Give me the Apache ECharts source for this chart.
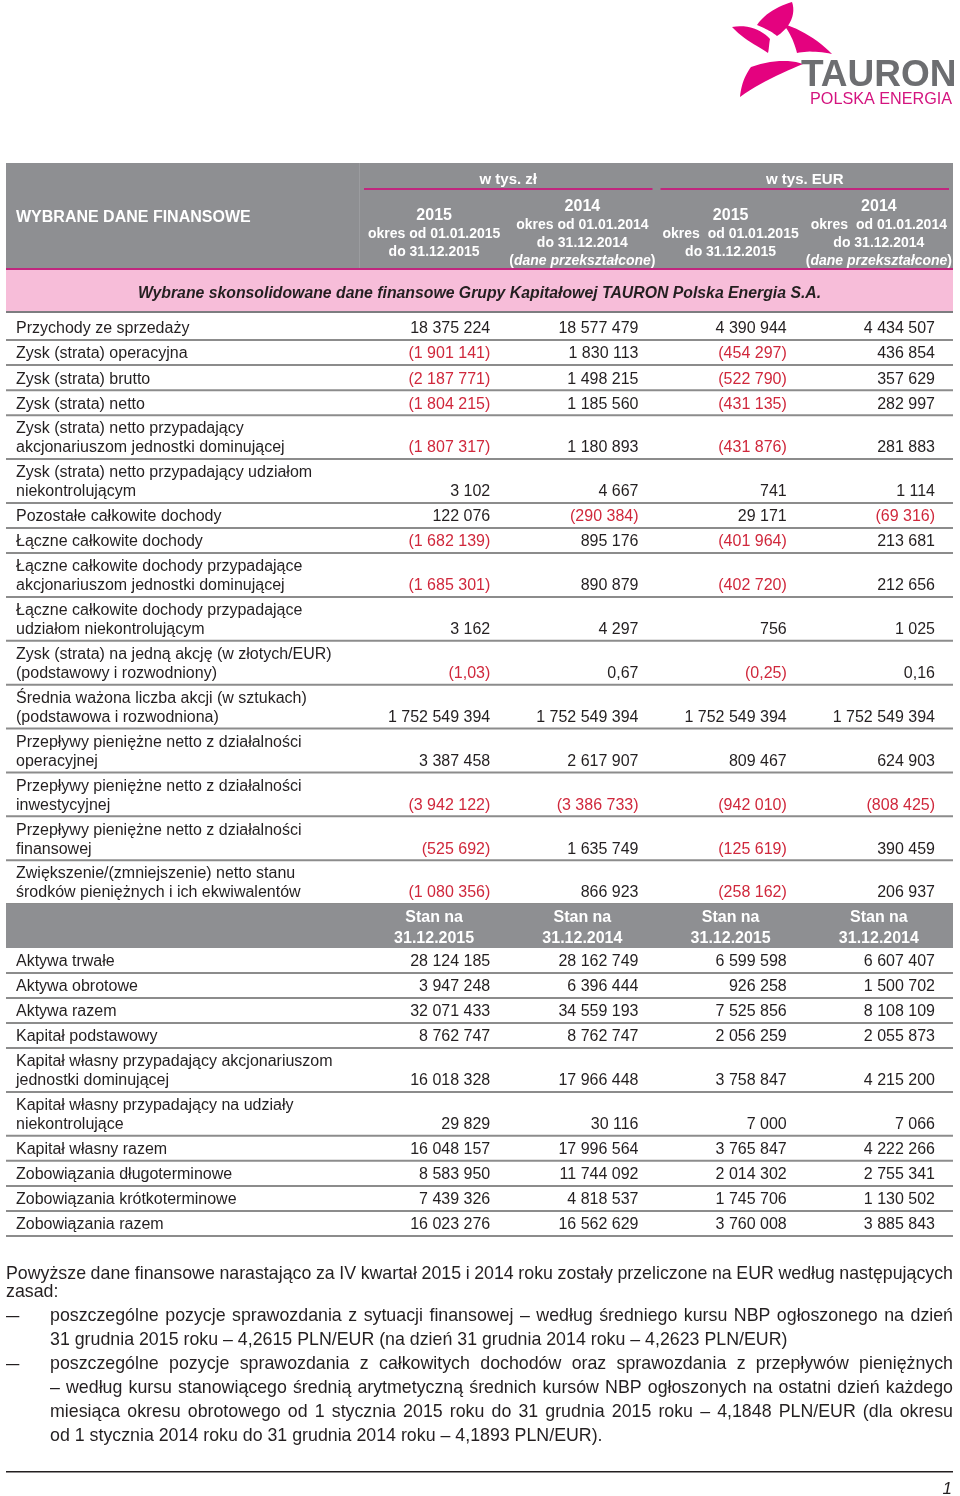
<!DOCTYPE html>
<html><head><meta charset="utf-8">
<script src="https://cdn.jsdelivr.net/npm/echarts@6/dist/echarts.min.js"></script>
<style>html,body{margin:0;padding:0;background:#fff}#c{width:960px;height:1496px}</style>
</head><body><div id="c"></div><script>
const FONT = '"Liberation Sans", Arial, Helvetica, sans-serif';

// ---------- DATA ----------
const tableTitle = 'WYBRANE DANE FINANSOWE';
const sectionTitle = 'Wybrane skonsolidowane dane finansowe Grupy Kapitałowej TAURON Polska Energia S.A.';
const currencyGroups = ['w tys. zł', 'w tys. EUR'];
const periodHeaders = [
  ['2015', 'okres od 01.01.2015', 'do 31.12.2015'],
  ['2014', 'okres od 01.01.2014', 'do 31.12.2014', '(dane przekształcone)'],
  ['2015', 'okres  od 01.01.2015', 'do 31.12.2015'],
  ['2014', 'okres  od 01.01.2014', 'do 31.12.2014', '(dane przekształcone)']
];
const balanceHeaders = ['Stan na\n31.12.2015', 'Stan na\n31.12.2014', 'Stan na\n31.12.2015', 'Stan na\n31.12.2014'];

const flowLabels = [
  'Przychody ze sprzedaży',
  'Zysk (strata) operacyjna',
  'Zysk (strata) brutto',
  'Zysk (strata) netto',
  'Zysk (strata) netto przypadający\nakcjonariuszom jednostki dominującej',
  'Zysk (strata) netto przypadający udziałom\nniekontrolującym',
  'Pozostałe całkowite dochody',
  'Łączne całkowite dochody',
  'Łączne całkowite dochody przypadające\nakcjonariuszom jednostki dominującej',
  'Łączne całkowite dochody przypadające\nudziałom niekontrolującym',
  'Zysk (strata) na jedną akcję (w złotych/EUR)\n(podstawowy i rozwodniony)',
  'Średnia ważona liczba akcji (w sztukach)\n(podstawowa i rozwodniona)',
  'Przepływy pieniężne netto z działalności\noperacyjnej',
  'Przepływy pieniężne netto z działalności\ninwestycyjnej',
  'Przepływy pieniężne netto z działalności\nfinansowej',
  'Zwiększenie/(zmniejszenie) netto stanu\nśrodków pieniężnych i ich ekwiwalentów'
];
const flowPln2015 = [18375224, -1901141, -2187771, -1804215, -1807317, 3102, 122076, -1682139, -1685301, 3162, -1.03, 1752549394, 3387458, -3942122, -525692, -1080356];
const flowPln2014 = [18577479, 1830113, 1498215, 1185560, 1180893, 4667, -290384, 895176, 890879, 4297, 0.67, 1752549394, 2617907, -3386733, 1635749, 866923];
const flowEur2015 = [4390944, -454297, -522790, -431135, -431876, 741, 29171, -401964, -402720, 756, -0.25, 1752549394, 809467, -942010, -125619, -258162];
const flowEur2014 = [4434507, 436854, 357629, 282997, 281883, 1114, -69316, 213681, 212656, 1025, 0.16, 1752549394, 624903, -808425, 390459, 206937];

const balanceLabels = [
  'Aktywa trwałe',
  'Aktywa obrotowe',
  'Aktywa razem',
  'Kapitał podstawowy',
  'Kapitał własny przypadający akcjonariuszom\njednostki dominującej',
  'Kapitał własny przypadający na udziały\nniekontrolujące',
  'Kapitał własny razem',
  'Zobowiązania długoterminowe',
  'Zobowiązania krótkoterminowe',
  'Zobowiązania razem'
];
const balPln2015 = [28124185, 3947248, 32071433, 8762747, 16018328, 29829, 16048157, 8583950, 7439326, 16023276];
const balPln2014 = [28162749, 6396444, 34559193, 8762747, 17966448, 30116, 17996564, 11744092, 4818537, 16562629];
const balEur2015 = [6599598, 926258, 7525856, 2056259, 3758847, 7000, 3765847, 2014302, 1745706, 3760008];
const balEur2014 = [6607407, 1500702, 8108109, 2055873, 4215200, 7066, 4222266, 2755341, 1130502, 3885843];

const footnoteLines = [
  {text: 'Powyższe dane finansowe narastająco za IV kwartał 2015 i 2014 roku zostały przeliczone na EUR według następujących', indent: 0, justify: true},
  {text: 'zasad:', indent: 0, justify: false, tight: true},
  {text: 'poszczególne pozycje sprawozdania z sytuacji finansowej – według średniego kursu NBP ogłoszonego na dzień', indent: 1, justify: true, bullet: true},
  {text: '31 grudnia 2015 roku – 4,2615 PLN/EUR (na dzień 31 grudnia 2014 roku – 4,2623 PLN/EUR)', indent: 1, justify: false},
  {text: 'poszczególne pozycje sprawozdania z całkowitych dochodów oraz sprawozdania z przepływów pieniężnych', indent: 1, justify: true, bullet: true},
  {text: '– według kursu stanowiącego średnią arytmetyczną średnich kursów NBP ogłoszonych na ostatni dzień każdego', indent: 1, justify: true},
  {text: 'miesiąca okresu obrotowego od 1 stycznia 2015 roku do 31 grudnia 2015 roku – 4,1848 PLN/EUR (dla okresu', indent: 1, justify: true},
  {text: 'od 1 stycznia 2014 roku do 31 grudnia 2014 roku – 4,1893 PLN/EUR).', indent: 1, justify: false}
];
const pageNumber = '1';

// ---------- HELPERS ----------
function fmt(v) {
  const neg = v < 0, a = Math.abs(v);
  let s;
  if (Number.isInteger(a)) s = String(a).replace(/\B(?=(\d{3})+(?!\d))/g, ' ');
  else s = a.toFixed(2).replace('.', ',');
  return neg ? '(' + s + ')' : s;
}
function bezierPoly(start, segs) {
  const pts = [start];
  let p0 = start;
  segs.forEach(s => {
    const [c1, c2, p3] = s;
    for (let t = 1; t <= 12; t++) {
      const u = t / 12, v = 1 - u;
      pts.push([
        v*v*v*p0[0] + 3*v*v*u*c1[0] + 3*v*u*u*c2[0] + u*u*u*p3[0],
        v*v*v*p0[1] + 3*v*v*u*c1[1] + 3*v*u*u*c2[1] + u*u*u*p3[1]
      ]);
    }
    p0 = p3;
  });
  return pts;
}

const LINE = 18.8, PAD = 6.2;
const rows = [];
flowLabels.forEach((l, i) => rows.push({kind: 'data', label: l, vals: [flowPln2015[i], flowPln2014[i], flowEur2015[i], flowEur2014[i]]}));
rows.push({kind: 'band', label: '', heads: balanceHeaders});
balanceLabels.forEach((l, i) => rows.push({kind: 'data', label: l, vals: [balPln2015[i], balPln2014[i], balEur2015[i], balEur2014[i]]}));
let acc = 0;
const rowData = rows.map((r, i) => {
  const lines = r.kind === 'band' ? 2 : r.label.split('\n').length;
  const s = acc; acc += lines * LINE + PAD;
  return [0, s, acc, i];
});
const total = acc;

const GRAY = '#8e8f92', MAG = '#c0267e', PINK = '#f7bdd9', INK = '#231f20', RED = '#d0283c', SEP = '#8c8c8c';
const TL = 6, TR = 953, VAL0 = 360;
const colW = (TR - VAL0) / 4;

// ---------- GRAPHIC (header, logo, footer) ----------
const g = [];
const blades = [
  bezierPoly([757,25], [[[765,13],[779,6],[792,2]], [[796,13],[791,27],[777,36]], [[771,31],[764,28],[757,25]]]),
  bezierPoly([732,27], [[[748,24],[762,30],[770,39]], [[769,44],[769,49],[768,53]], [[758,46],[744,40],[732,27]]]),
  bezierPoly([751,67], [[[770,60],[790,59],[803,64]], [[784,72],[759,83],[740,97]], [[741,85],[745,75],[751,67]]]),
  bezierPoly([783,24], [[[801,29],[818,40],[832,54]], [[818,51],[806,51],[797,53]], [[794,41],[789,31],[783,24]]])
];
blades.forEach(p => g.push({type: 'polygon', shape: {points: p}, style: {fill: '#e4027f'}}));
g.push({type: 'text', x: 801, y: 76, style: {text: 'TAURON', font: 'bold 37px ' + FONT, fill: '#6d6e71', verticalAlign: 'middle'}});
g.push({type: 'text', x: 810, y: 100, style: {text: 'POLSKA ENERGIA', font: '16.2px ' + FONT, fill: '#d4147f', verticalAlign: 'middle'}});

// header box
g.push({type: 'rect', shape: {x: TL, y: 163, width: TR - TL, height: 105}, style: {fill: GRAY}});
g.push({type: 'rect', shape: {x: VAL0 - 1, y: 163, width: 1, height: 105}, style: {fill: 'rgba(255,255,255,0.12)'}});
g.push({type: 'rect', shape: {x: TL, y: 268, width: TR - TL, height: 2}, style: {fill: MAG}});
g.push({type: 'rect', shape: {x: TL, y: 270, width: TR - TL, height: 41}, style: {fill: PINK}});
g.push({type: 'rect', shape: {x: TL, y: 311, width: TR - TL, height: 2}, style: {fill: '#7d7d80'}});
g.push({type: 'text', x: 16, y: 218, style: {text: tableTitle, font: 'bold 16px ' + FONT, fill: '#fff', verticalAlign: 'middle'}});
currencyGroups.forEach((t, k) => {
  const x0 = VAL0 + k * 2 * colW;
  g.push({type: 'text', x: x0 + colW, y: 180, style: {text: t, font: 'bold 15px ' + FONT, fill: '#fff', align: 'center', verticalAlign: 'middle'}});
  g.push({type: 'rect', shape: {x: x0 + 4, y: 188, width: 2 * colW - 8, height: 2}, style: {fill: MAG}});
});
periodHeaders.forEach((lines, k) => {
  const cx = VAL0 + (k + 0.5) * colW;
  const n = lines.length;
  lines.forEach((t, j) => {
    const y = 234 + (j - (n - 1) / 2) * 18;
    let style;
    if (j === 0) style = {text: t, font: 'bold 16px ' + FONT};
    else if (t.startsWith('(')) style = {text: '{r|(}{i|' + t.slice(1, -1) + '}{r|)}', rich: {r: {font: 'bold 14px ' + FONT, fill: '#fff'}, i: {font: 'italic bold 14px ' + FONT, fill: '#fff'}}};
    else style = {text: t, font: 'bold 14px ' + FONT};
    style.fill = '#fff'; style.align = 'center'; style.verticalAlign = 'middle';
    g.push({type: 'text', x: cx, y: y, style: style});
  });
});
g.push({type: 'text', x: (TL + TR) / 2, y: 294, style: {text: sectionTitle, font: 'italic bold 15.8px ' + FONT, fill: INK, align: 'center', verticalAlign: 'middle'}});

// footer justified text
const FOOT_FONT = '17.8px ' + FONT;
const ctx = document.createElement('canvas').getContext('2d');
ctx.font = FOOT_FONT;
let fy = 1274;
footnoteLines.forEach((ln, i) => {
  if (i > 0) fy += ln.tight ? 18 : 24;
  const x0 = ln.indent ? 50 : TL;
  if (ln.bullet) g.push({type: 'text', x: TL, y: fy, scaleX: 1.35, originX: 0, originY: 0, style: {text: '–', font: FOOT_FONT, fill: INK, verticalAlign: 'middle'}});
  if (!ln.justify) {
    g.push({type: 'text', x: x0, y: fy, style: {text: ln.text, font: FOOT_FONT, fill: INK, verticalAlign: 'middle'}});
    return;
  }
  const words = ln.text.split(' ');
  const widths = words.map(w => ctx.measureText(w).width);
  const sum = widths.reduce((a, b) => a + b, 0);
  const gap = (TR - x0 - sum) / (words.length - 1);
  let x = x0;
  words.forEach((w, k) => {
    g.push({type: 'text', x: x, y: fy, style: {text: w, font: FOOT_FONT, fill: INK, verticalAlign: 'middle'}});
    x += widths[k] + gap;
  });
});
g.push({type: 'rect', shape: {x: TL, y: 1471, width: TR - TL, height: 1.5}, style: {fill: INK}});
g.push({type: 'text', x: 952, y: 1489, style: {text: pageNumber, font: 'italic 17px ' + FONT, fill: INK, align: 'right', verticalAlign: 'middle'}});

// ---------- TABLE BODY (custom series) ----------
function renderRow(params, api) {
  const r = rows[api.value(3)];
  const top = api.coord([0, api.value(1)])[1];
  const bot = api.coord([0, api.value(2)])[1];
  const cs = params.coordSys;
  const x0 = cs.x, x1 = cs.x + cs.width;
  const cw = (x1 - VAL0) / 4;
  const ch = [];
  if (r.kind === 'band') {
    ch.push({type: 'rect', shape: {x: x0, y: top, width: x1 - x0, height: bot - top}, style: {fill: GRAY}});
    r.heads.forEach((h, k) => ch.push({type: 'text', style: {text: h, x: VAL0 + (k + 0.5) * cw, y: (top + bot) / 2 + 2, font: 'bold 16px ' + FONT, lineHeight: 21, fill: '#fff', align: 'center', verticalAlign: 'middle'}}));
  } else {
    const ty = bot - 1.5;
    ch.push({type: 'text', style: {text: r.label, x: x0 + 10, y: ty, font: '16px ' + FONT, lineHeight: 19, fill: INK, align: 'left', verticalAlign: 'bottom'}});
    r.vals.forEach((v, k) => ch.push({type: 'text', style: {text: fmt(v), x: VAL0 + (k + 1) * cw - 18, y: ty, font: '16px ' + FONT, lineHeight: 19, fill: v < 0 ? RED : INK, align: 'right', verticalAlign: 'bottom'}}));
    ch.push({type: 'rect', shape: {x: x0, y: bot - 1, width: x1 - x0, height: 2}, style: {fill: SEP}});
  }
  return {type: 'group', children: ch};
}

const chart = echarts.init(document.getElementById('c'), null, {renderer: 'canvas'});
chart.setOption({
  animation: false,
  backgroundColor: '#fff',
  grid: {left: TL, right: 960 - TR, top: 315, height: 921},
  xAxis: {type: 'value', min: 0, max: 1, show: false},
  yAxis: {type: 'value', min: 0, max: total, inverse: true, show: false},
  series: [{type: 'custom', renderItem: renderRow, data: rowData, encode: {x: 0, y: 1}, clip: false, silent: true}],
  graphic: g
});
</script></body></html>
